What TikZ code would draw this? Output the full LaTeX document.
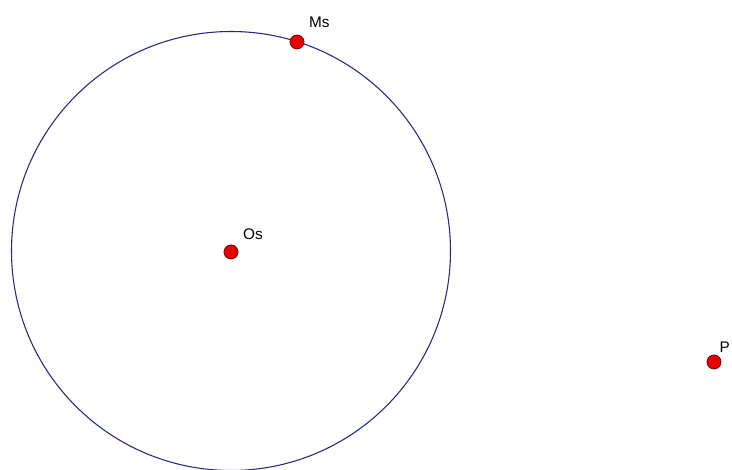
\documentclass[tikz,border=0pt]{standalone}
\usepackage{fontspec}
\setmainfont{Liberation Sans}
\usetikzlibrary{positioning}
\definecolor{orbitblue}{RGB}{40,40,130}
\definecolor{dotred}{RGB}{230,0,0}
\definecolor{dotrim}{RGB}{120,0,0}
\tikzset{
  dot/.style={circle, fill=dotred, draw=dotrim, line width=.6pt, minimum size=10.5pt, inner sep=0pt},
  lbl/.style={inner sep=0pt, font=\fontsize{11.5}{13}\selectfont}
}
\begin{document}
\begin{tikzpicture}[x=.75pt,y=.75pt]
  \useasboundingbox (0,0) rectangle (732,470);
  \draw [orbitblue, line width=.8pt] (231,219) circle (219.5);
  \node [dot] (Os) at (231,218) {};
  \node [dot] (Ms) at (297,428) {};
  \node [dot] (P)  at (714,108) {};
  \node [lbl, above right=5pt and 5pt of Os] (OsLbl) {Os};
  \node [lbl, above right=7pt and 5pt of Ms] (MsLbl) {Ms};
  \node [lbl, above right=3pt and 0pt of P]  (PLbl)  {P};
\end{tikzpicture}
\end{document}
